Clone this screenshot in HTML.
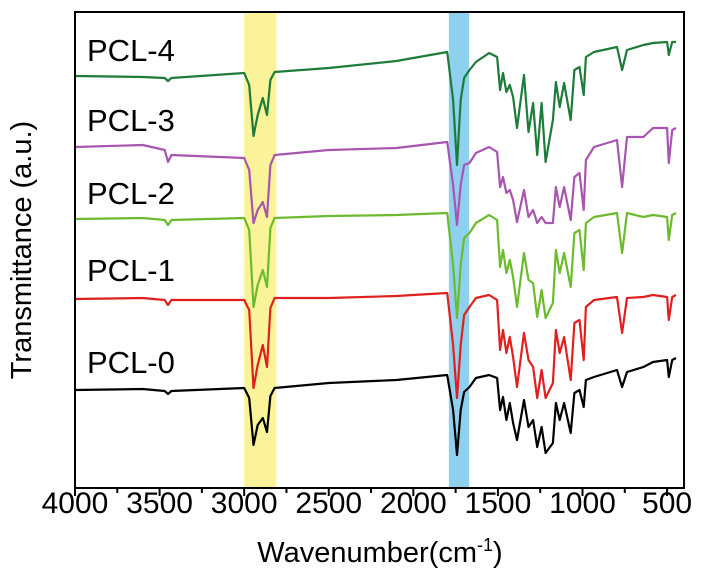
<!DOCTYPE html>
<html><head><meta charset="utf-8"><style>
html,body{margin:0;padding:0;background:#fff;}
svg{display:block;font-family:"Liberation Sans",Arial,sans-serif;}
</style></head><body>
<svg id="chart" width="702" height="584" viewBox="0 0 702 584"></svg>
<script>
const wavenumbers=[4000,3600,3470,3450,3430,3000,2970,2945,2920,2890,2865,2845,2820,2500,2100,1800,1765,1742,1720,1700,1668,1630,1552,1505,1487,1470,1450,1430,1410,1387,1346,1319,1292,1268,1242,1218,1175,1157,1135,1109,1070,1048,1018,993,980,932,796,766,737,640,583,500,490,470,447];
const pcl4=[412,411,410,407,410,415,403,352,373,390,373,408,416,420,427,436,388,323,388,410,418,426,435,431,398,415,396,403,391,360,413,356,385,333,385,326,368,406,381,405,368,418,421,393,431,436,441,418,438,443,445,446,433,446,446];
const pcl3=[341,343,338,326,333,330,318,265,278,286,271,323,333,338,340,346,303,263,303,323,325,335,341,336,301,311,295,298,288,266,298,271,278,265,271,265,265,301,281,301,268,311,315,278,328,341,348,301,351,351,360,360,325,358,360];
const pcl2=[269,270,268,263,268,270,258,181,203,218,201,260,270,272,273,275,223,170,223,250,255,265,273,268,221,238,215,228,211,181,235,208,205,171,198,170,185,238,215,235,201,255,258,218,265,271,275,235,275,271,273,271,248,273,275];
const pcl1=[189,190,188,183,188,188,178,100,123,143,121,180,190,190,192,195,143,90,143,173,181,190,193,188,138,158,135,151,131,101,155,128,121,90,118,90,105,158,135,151,108,165,168,128,181,188,191,155,190,191,193,191,168,191,193];
const pcl0=[98,99,97,94,97,100,90,43,63,70,56,92,100,105,108,113,78,33,78,96,101,110,113,110,78,91,68,85,65,48,88,61,68,41,61,35,45,85,68,85,55,95,98,81,108,111,118,101,116,121,126,128,111,128,130];
const seriesNames=["PCL-4","PCL-3","PCL-2","PCL-1","PCL-0"];
const seriesColors=["#1e7b3a","#a855b0","#6cbb2f","#e0201f","#000000"];
const labelValues=[427,357,284,207,115];
const xTicks=[4000,3500,3000,2500,2000,1500,1000,500];
const bands=[[3000,2810,"#fbf39a","ch-stretch-band"],[1790,1670,"#8fd0ef","carbonyl-band"]];

const L=75,R=684,T=12,B=488;
const X0=4000,X1=400;
const xs=w=>L+(X0-w)*(R-L)/(X0-X1);
const ys=v=>B-v*(B-T)/476;
const NS="http://www.w3.org/2000/svg";
const svg=document.getElementById('chart');
function mk(tag,attrs,parent){const e=document.createElementNS(NS,tag);for(const k in attrs)e.setAttribute(k,attrs[k]);(parent||svg).appendChild(e);return e;}

bands.forEach(b=>{
  const r=mk('rect',{x:xs(b[0]),y:T,width:xs(b[1])-xs(b[0]),height:B-T,fill:b[2]});
  
  
});

const all=[pcl4,pcl3,pcl2,pcl1,pcl0];
all.forEach((vals,i)=>{
  const d=vals.map((v,j)=>(j?'L':'M')+xs(wavenumbers[j]).toFixed(1)+' '+ys(v).toFixed(1)).join(' ');
  const p=mk('path',{d:d,fill:'none',stroke:seriesColors[i],'stroke-width':2.2,'stroke-linejoin':'round'});
  
  
  const t=mk('text',{x:87,y:ys(labelValues[i]),'font-size':31,fill:'#000'});
  t.textContent=seriesNames[i];
  
  
});

const frame=mk('rect',{x:L,y:T,width:R-L,height:B-T,fill:'none',stroke:'#000','stroke-width':2});



xTicks.forEach(w=>{
  const x=xs(w);
  const tk=mk('line',{x1:x,y1:B,x2:x,y2:B+8,stroke:'#000','stroke-width':2});
  
  
  const mx=xs(w-250);
  if(w-250>X1){
    const m=mk('line',{x1:mx,y1:B,x2:mx,y2:B+5,stroke:'#000','stroke-width':2});
    
    
  }
  const t=mk('text',{x:x,y:B+25,'font-size':30,'text-anchor':'middle',fill:'#000'});
  t.textContent=w;
  
  
});

const xt=mk('text',{x:380,y:562,'font-size':29,'text-anchor':'middle',fill:'#000'});
xt.innerHTML='Wavenumber(cm<tspan dy="-11" font-size="18">-1</tspan><tspan dy="11">)</tspan>';



const yt=mk('text',{x:0,y:0,'font-size':29,'text-anchor':'middle',fill:'#000',transform:'translate(31,250) rotate(-90)'});
yt.textContent='Transmittance (a.u.)';


</script>
</body></html>
